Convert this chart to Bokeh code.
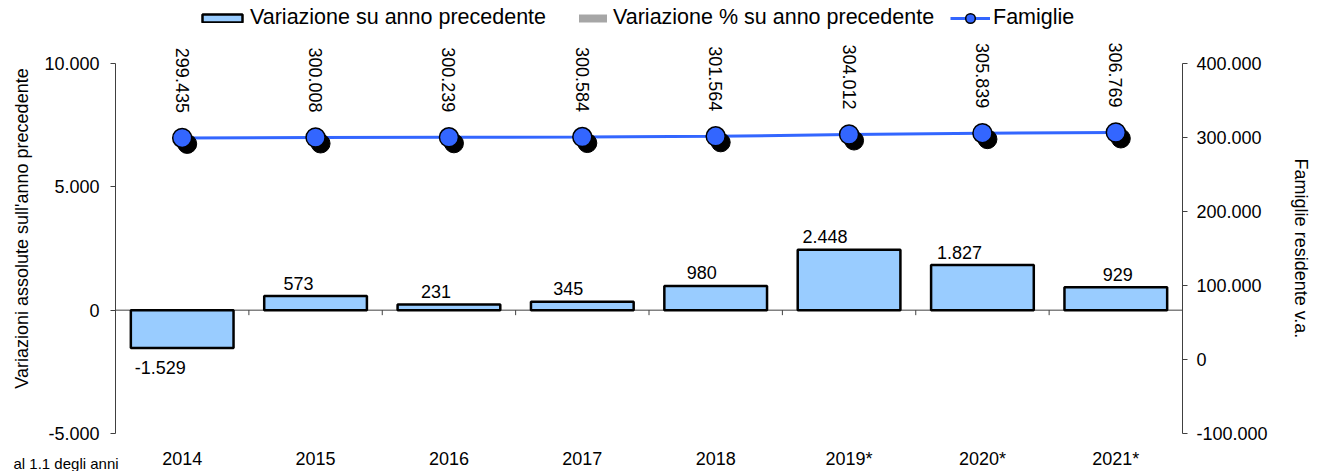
import math
from bokeh.plotting import figure
from bokeh.models import (ColumnDataSource, Range1d, LinearAxis, FixedTicker,
                          Legend, LegendItem, Label, CDSView, BooleanFilter)
from bokeh.transform import dodge
from bokeh.core.properties import value
from bokeh.embed import file_html
from bokeh.resources import INLINE

# ---------------- data ----------------
years = ["2014", "2015", "2016", "2017", "2018", "2019*", "2020*", "2021*"]
var_abs = [-1529, 573, 231, 345, 980, 2448, 1827, 929]
var_pct = [None] * len(years)     # listed in the legend, no bars visible in the chart
famiglie = [299435, 300008, 300239, 300584, 301564, 304012, 305839, 306769]
left_ticks = [-5000, 0, 5000, 10000]
right_ticks = [-100000, 0, 100000, 200000, 300000, 400000]

def it(v):
    return f"{v:,}".replace(",", ".")

# ---------------- style ----------------
FONT = "Liberation Sans"
FS = "18px"
LFS = "21.5px"
AXC = "#404040"
LABEL_DX = [-22, -17, -13, -14, -14, -24, -23, 2]   # bar-label pixel nudges

# ---------------- layout (pixels) ----------------
W, H = 1321, 471
PLOT_L, PLOT_R = 115, 1182     # x of left / right axis
AX_TOP, AX_BOT = 63, 433       # y of top / bottom ticks
LTITLE_Y = 228                 # vertical centre of the left axis title
n = len(years)
cat_px = (PLOT_R - PLOT_L) / n
span_px = AX_BOT - AX_TOP

l_lo, l_hi = left_ticks[0], left_ticks[-1]
r_lo, r_hi = right_ticks[0], right_ticks[-1]
l_per_px = (l_hi - l_lo) / span_px
r_per_px = (r_hi - r_lo) / span_px

x_lo = -0.5 - PLOT_L / cat_px
x_hi = n - 0.5 + (W - PLOT_R) / cat_px

p = figure(width=W, height=H,
           x_range=Range1d(x_lo, x_hi),
           y_range=Range1d(l_lo - l_per_px * (H - AX_BOT), l_hi + l_per_px * AX_TOP),
           x_axis_location=None, y_axis_location=None,
           output_backend="svg", toolbar_location=None,
           min_border_left=0, min_border_right=0, min_border_top=0, min_border_bottom=0)
p.extra_y_ranges = {"right": Range1d(r_lo - r_per_px * (H - AX_BOT), r_hi + r_per_px * AX_TOP)}
p.outline_line_color = None
p.background_fill_color = None
p.border_fill_color = None

idx = list(range(n))
src = ColumnDataSource(dict(i=idx, year=years, v=var_abs, lab=[it(v) for v in var_abs],
                            dx=LABEL_DX, pct=var_pct, fam=famiglie,
                            flab=[it(f) for f in famiglie]))

# axes
lax = LinearAxis(ticker=FixedTicker(ticks=left_ticks), bounds=(l_lo, l_hi), fixed_location=-0.5,
                 major_label_overrides={t: it(t) for t in left_ticks})
rax = LinearAxis(y_range_name="right", ticker=FixedTicker(ticks=right_ticks), bounds=(r_lo, r_hi),
                 fixed_location=n - 0.5, axis_label="Famiglie residente v.a.",
                 major_label_overrides={t: it(t) for t in right_ticks})
for ax, st, lst in ((lax, 10, 11), (rax, 20, 9)):
    ax.axis_line_color = AXC
    ax.major_tick_line_color = AXC
    ax.major_tick_in = 0
    ax.major_tick_out = 5
    ax.minor_tick_line_color = None
    ax.major_label_standoff = lst
    ax.major_label_text_font = FONT
    ax.major_label_text_font_size = FS
    ax.major_label_text_color = "black"
    ax.axis_label_text_font = FONT
    ax.axis_label_text_font_size = FS
    ax.axis_label_text_font_style = "normal"
    ax.axis_label_text_color = "black"
    ax.axis_label_standoff = st
p.add_layout(lax, "left")
p.add_layout(rax, "right")

# left axis title (carried by a bare axis so it can sit a little above centre)
tc = l_hi - (LTITLE_Y - AX_TOP) * l_per_px
tax = LinearAxis(ticker=FixedTicker(ticks=[]), bounds=(tc - 1000, tc + 1000), fixed_location=-0.5,
                 axis_label="Variazioni assolute sull'anno precedente",
                 axis_line_color=None, major_tick_line_color=None, minor_tick_line_color=None,
                 major_tick_out=0, minor_tick_out=0,
                 axis_label_text_font=FONT, axis_label_text_font_size=FS,
                 axis_label_text_font_style="normal", axis_label_text_color="black",
                 axis_label_standoff=84)
p.add_layout(tax, "left")

xa = LinearAxis(ticker=FixedTicker(ticks=idx), fixed_location=l_lo,
                major_label_overrides={i: y for i, y in zip(idx, years)})
xa.axis_line_color = None
xa.major_tick_line_color = None
xa.minor_tick_line_color = None
xa.major_label_standoff = 9
xa.major_label_text_font = FONT
xa.major_label_text_font_size = FS
xa.major_label_text_color = "black"
p.add_layout(xa, "below")
p.xgrid.visible = False
p.ygrid.visible = False

# zero line (between the two axes) and category ticks
p.segment(x0=[-0.5], x1=[n - 0.5], y0=[0], y1=[0], line_color=AXC, line_width=1)
bx = [i - 0.5 for i in range(n + 1)]
p.segment(x0=bx, x1=bx, y0=[0] * len(bx), y1=[-5 * l_per_px] * len(bx),
          line_color=AXC, line_width=1)

# bars
bars = p.vbar(x="i", top="v", width=0.77, source=src, fill_color="#99CCFF",
              line_color="black", line_width=2.5)
pct = p.vbar(x="i", top="pct", width=0.77, source=src, fill_color="#A6A6A6", line_color=None)

pos = [v >= 0 for v in var_abs]
neg = [v < 0 for v in var_abs]
p.text(x="i", y="v", text="lab", source=src, view=CDSView(filter=BooleanFilter(pos)),
       text_align="center", text_baseline="alphabetic", x_offset="dx", y_offset=-13,
       text_font=value(FONT), text_font_size=FS, text_color="black")
p.text(x="i", y="v", text="lab", source=src, view=CDSView(filter=BooleanFilter(neg)),
       text_align="center", text_baseline="top", x_offset="dx", y_offset=13,
       text_font=value(FONT), text_font_size=FS, text_color="black")

# famiglie line with shadowed markers
line = p.line(x="i", y="fam", source=src, y_range_name="right",
              line_color="#3366FF", line_width=3)
p.scatter(x=dodge("i", 5 / cat_px), y=dodge("fam", -6 * r_per_px), source=src,
          y_range_name="right", size=19, fill_color="black", line_color="black")
dots = p.scatter(x="i", y="fam", source=src, y_range_name="right",
                 size=19, fill_color="#3366FF", line_color="black", line_width=1.5)
p.text(x="i", y="fam", text="flab", source=src, y_range_name="right",
       angle=-math.pi / 2, text_align="right", text_baseline="middle", y_offset=-25,
       text_font=value(FONT), text_font_size=FS, text_color="black")

# legends (one per key, keys differ in size)
common = dict(orientation="horizontal", padding=0, margin=0, border_line_color=None,
              background_fill_alpha=0, label_text_font=FONT, label_text_font_size=LFS,
              label_standoff=3, label_text_color="black")
LEG_Y = H - 30
legA = Legend(items=[LegendItem(label="Variazione su anno precedente", renderers=[bars])],
              location=(197, LEG_Y), glyph_width=50, glyph_height=10, **common)
legB = Legend(items=[LegendItem(label="Variazione % su anno precedente", renderers=[pct])],
              location=(575, LEG_Y), glyph_width=35, glyph_height=10, **common)
legC = Legend(items=[LegendItem(label="Famiglie", renderers=[line, dots])],
              location=(950, LEG_Y), glyph_width=40, glyph_height=24, **common)
for lg in (legA, legB, legC):
    p.add_layout(lg)

p.add_layout(Label(x=13, y=H - 463, x_units="screen", y_units="screen", text="al 1.1 degli anni",
                   text_font=FONT, text_font_size="15px", text_color="black",
                   text_baseline="alphabetic"))

open("out.html", "w").write(file_html(p, INLINE))
